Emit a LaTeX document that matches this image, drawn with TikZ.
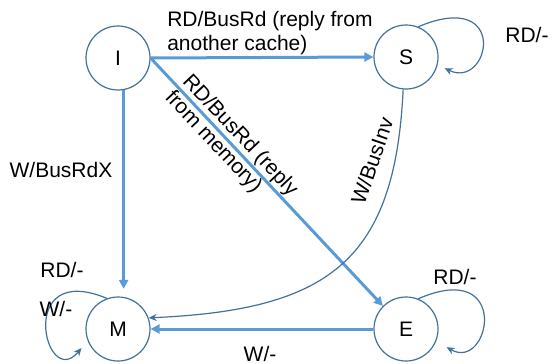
\documentclass[tikz,border=0pt]{standalone}
\usepackage{fontspec}
\setmainfont{Liberation Sans}
\usetikzlibrary{arrows.meta}
\definecolor{thickblue}{HTML}{5B9BD5}
\definecolor{thinblue}{HTML}{41719C}
\begin{document}
\begin{tikzpicture}[x=1pt,y=-1pt,
  every node/.style={font=\fontsize{21}{24}\selectfont, inner sep=0pt},
  state/.style={circle, draw=thinblue, line width=1.2pt, minimum size=64pt, fill=white},
  thickarrow/.style={draw=thickblue, line width=3pt, -{Triangle[length=9pt,width=9pt]}},
  thinarrow/.style={draw=thinblue, line width=1.2pt, -{Stealth[length=8pt,width=7pt]}},
  lbl/.style={align=left}
]
\useasboundingbox (0,0) rectangle (552,364);
\node[state] (I) at (118,58) {I};
\node[state] (S) at (406,57) {S};
\node[state] (M) at (118,329) {M};
\node[state] (E) at (406,329) {E};

% thick transitions
\draw[thickarrow] (I.east) -- (S.west);
\draw[thickarrow, shorten >=8pt] (I.-80) -- (M.80);
\draw[thickarrow] (I.east) -- (E.135);
\draw[thickarrow] (E.west) -- (M.east);

% thin transitions
\draw[thinarrow] (S.-95) .. controls (395,260) and (330,310) .. (M.20);
\draw[thinarrow, shorten >=7.7pt] (S.68) .. controls (510,-12) and (490,90) .. (S.-14);
\draw[thinarrow, shorten >=12pt] (E.68) .. controls (512,258) and (490,372) .. (E.-22);
\draw[thinarrow, shorten >=9.5pt] (M.110) .. controls (15,260) and (45,392) .. (M.201);

% labels
\node[lbl] (lIS) at (270,33) {RD/BusRd (reply from\\another cache)};
\node[lbl, rotate=-46.7] (lIE) at (231,144) {RD/BusRd (reply\\from memory)};
\node[rotate=71] (lSM) at (372,161) {W/BusInv};
\node (lIM) at (61,170) {W/BusRdX};
\node (lSS) at (527,35) {RD/-};
\node (lMM1) at (62,270) {RD/-};
\node (lMM2) at (56,309) {W/-};
\node (lEE) at (455,277) {RD/-};
\node (lEM) at (260,354) {W/-};
\end{tikzpicture}
\end{document}
